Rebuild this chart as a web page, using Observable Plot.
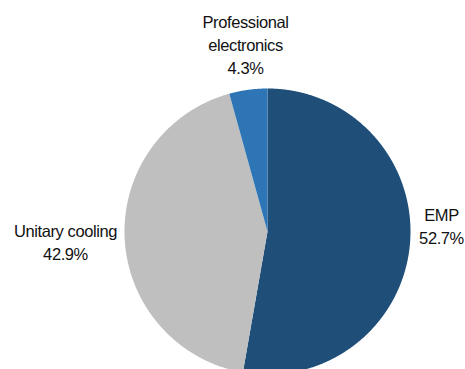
<!DOCTYPE html>
<html>
<head>
<meta charset="utf-8">
<script src="https://cdn.jsdelivr.net/npm/d3@7"></script>
<script src="https://cdn.jsdelivr.net/npm/@observablehq/plot@0.6"></script>
<style>
  html, body { margin: 0; padding: 0; background: #fff; }
  #chart svg { display: block; }
  #chart text { letter-spacing: -0.4px; }
</style>
</head>
<body>
<div id="chart"></div>
<script>
// Data
const categories = ["EMP", "Unitary cooling", "Professional electronics"];
const shares = [52.7, 42.9, 4.3];
const colors = ["#1F4E79", "#BFBFBF", "#2E75B6"];
const labelText = [["EMP", "52.7%"], ["Unitary cooling", "42.9%"], ["Professional", "electronics", "4.3%"]];

// Layout
const W = 465, H = 369;
const cx = 267, cy = 231, R = 143;
const labelPos = [[441, 215], [65, 231], [245, 22]];
const lineH = 23;

const pie = d3.pie().sort(null).value(d => d.share)
  (categories.map((c, i) => ({cat: c, share: shares[i], color: colors[i]})));

const pts = [];
pie.forEach(s => {
  const n = Math.max(4, Math.ceil((s.endAngle - s.startAngle) / 0.005));
  pts.push({cat: s.data.cat, x: cx, y: cy});
  for (let k = 0; k <= n; k++) {
    const a = s.startAngle + (s.endAngle - s.startAngle) * k / n;
    pts.push({cat: s.data.cat, x: cx + R * Math.sin(a), y: cy - R * Math.cos(a)});
  }
  pts.push({cat: s.data.cat, x: cx, y: cy});
});

const labels = [];
labelText.forEach((lines, i) => {
  lines.forEach((t, j) => labels.push({text: t, x: labelPos[i][0], y: labelPos[i][1] + j * lineH}));
});

const plot = Plot.plot({
  width: W, height: H,
  margin: 0,
  x: {domain: [0, W], range: [0, W], axis: null},
  y: {domain: [0, H], range: [0, H], axis: null},
  style: {fontFamily: "'Liberation Sans Narrow', 'Arial Narrow', 'Liberation Sans', Arial, sans-serif", background: "#fff"},
  marks: [
    Plot.line(pts, {x: "x", y: "y", z: "cat", fill: d => colors[categories.indexOf(d.cat)], stroke: "none", curve: "linear"}),
    Plot.text(labels, {x: "x", y: "y", text: "text", fontSize: 16.5, fill: "#111", textAnchor: "middle", lineAnchor: "middle"})
  ]
});
document.getElementById("chart").appendChild(plot);
</script>
</body>
</html>
